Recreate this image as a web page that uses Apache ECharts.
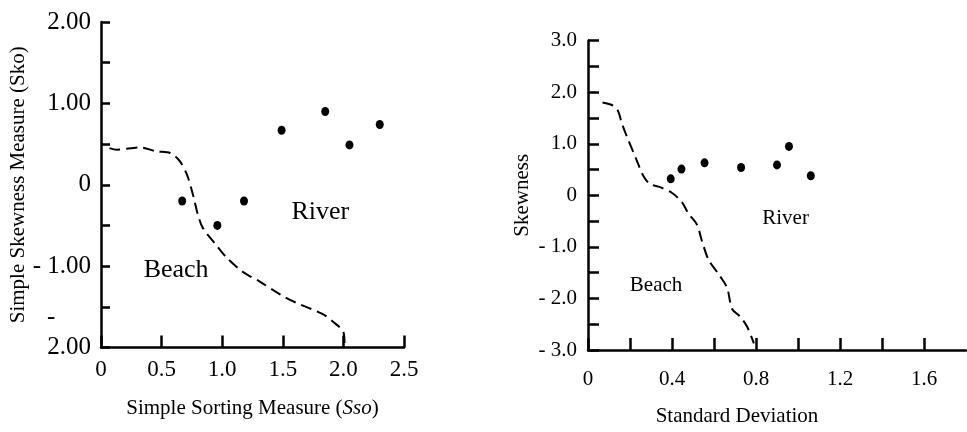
<!DOCTYPE html>
<html>
<head>
<meta charset="utf-8">
<script src="https://cdn.jsdelivr.net/npm/echarts@6/dist/echarts.min.js"></script>
<style>
  html, body { margin: 0; padding: 0; background: #fff; }
  #chart { width: 967px; height: 432px; }
</style>
</head>
<body>
<div id="chart"></div>
<script>
// ==========================================================================
// Data
// ==========================================================================

// Left panel: simple sorting vs simple skewness
var sortingPoints = [
    [0.67, -0.20], [0.96, -0.50], [1.18, -0.20], [1.49, 0.67],
    [1.85, 0.90], [2.05, 0.49], [2.30, 0.74]
];
var sortingBoundary = [
    [0.07, 0.45], [0.13, 0.43], [0.32, 0.46], [0.46, 0.41], [0.57, 0.39],
    [0.65, 0.29], [0.71, 0.12], [0.76, -0.13], [0.80, -0.37], [0.84, -0.53],
    [0.95, -0.74], [1.04, -0.90], [1.17, -1.07], [1.31, -1.19], [1.48, -1.35],
    [1.61, -1.45], [1.83, -1.59], [1.92, -1.69], [2.00, -1.81], [2.01, -1.96]
];
var sortingLabels = [
    { name: 'River', value: [1.81, -0.34] },
    { name: 'Beach', value: [0.62, -1.05] }
];
var sortingXTicks = { 0: '0', 0.5: '0.5', 1: '1.0', 1.5: '1.5', 2: '2.0', 2.5: '2.5' };

// Right panel: standard deviation vs skewness
var stdevPoints = [
    [0.394, 0.32], [0.445, 0.51], [0.555, 0.63], [0.729, 0.54],
    [0.90, 0.59], [0.957, 0.95], [1.061, 0.38]
];
var stdevBoundary = [
    [0.069, 1.80], [0.12, 1.74], [0.144, 1.63], [0.16, 1.41], [0.19, 1.09],
    [0.23, 0.70], [0.263, 0.38], [0.295, 0.22], [0.343, 0.16], [0.399, 0.05],
    [0.447, -0.13], [0.478, -0.35], [0.519, -0.57], [0.543, -0.89],
    [0.574, -1.25], [0.622, -1.53], [0.662, -1.79], [0.686, -2.20],
    [0.726, -2.36], [0.758, -2.55], [0.79, -2.87]
];
var stdevLabels = [
    { name: 'River', value: [0.941, -0.45] },
    { name: 'Beach', value: [0.324, -1.75] }
];
var stdevXTicks = { '0.0': '0', '0.4': '0.4', '0.8': '0.8', '1.2': '1.2', '1.6': '1.6' };
var stdevYTicks = { 3: '3.0', 2: '2.0', 1: '1.0', 0: '0', '-1': '- 1.0', '-2': '- 2.0', '-3': '- 3.0' };

// ==========================================================================
// Chart setup
// ==========================================================================

var chart = echarts.init(document.getElementById('chart'));
var FONT = '"Liberation Serif", "Times New Roman", serif';

var axisLine = { onZero: false, lineStyle: { color: '#000', width: 2.5 } };

function tickStyle(len) {
    return { inside: true, length: len, lineStyle: { color: '#000', width: 2.5 } };
}

function labelSeries(xi, data, size) {
    return {
        type: 'scatter',
        xAxisIndex: xi,
        yAxisIndex: xi,
        data: data,
        symbolSize: 0,
        silent: true,
        itemStyle: { opacity: 1 },
        label: {
            show: true,
            position: 'inside',
            formatter: '{b}',
            color: '#000',
            fontFamily: FONT,
            fontSize: size
        }
    };
}

chart.setOption({
    animation: false,
    backgroundColor: '#fff',
    grid: [
        { left: 101, top: 22, width: 303, height: 325.5 },
        { left: 588, top: 40.7, width: 378, height: 313.3 }
    ],
    xAxis: [
        {
            gridIndex: 0,
            type: 'value',
            min: 0, max: 2.5, interval: 0.5,
            splitLine: { show: false },
            axisLine: axisLine,
            axisTick: tickStyle(12),
            axisLabel: {
                color: '#000', fontFamily: FONT, fontSize: 23, margin: 11,
                formatter: v => sortingXTicks[+v.toFixed(1)] || ''
            },
            name: 'Simple Sorting Measure ({i|Sso})',
            nameLocation: 'middle',
            nameGap: 50,
            nameTextStyle: {
                color: '#000', fontFamily: FONT, fontSize: 21,
                rich: {
                    i: { fontStyle: 'italic', fontFamily: FONT, fontSize: 21, color: '#000' }
                }
            }
        },
        {
            gridIndex: 1,
            type: 'value',
            min: 0, max: 1.8, interval: 0.2,
            splitLine: { show: false },
            axisLine: axisLine,
            axisTick: tickStyle(12),
            axisLabel: {
                color: '#000', fontFamily: FONT, fontSize: 21, margin: 19,
                showMaxLabel: false,
                formatter: v => stdevXTicks[v.toFixed(1)] || ''
            },
            name: 'Standard Deviation',
            nameLocation: 'middle',
            nameGap: 56,
            nameTextStyle: {
                color: '#000', fontFamily: FONT, fontSize: 21,
                padding: [0, 80, 0, 0]
            }
        }
    ],
    yAxis: [
        {
            gridIndex: 0,
            type: 'value',
            min: -2, max: 2, interval: 0.5,
            splitLine: { show: false },
            axisLine: axisLine,
            axisTick: tickStyle(9),
            axisLabel: {
                color: '#000', fontFamily: FONT, fontSize: 25, margin: 10,
                formatter: function (v) {
                    if (v === 2) return '2.00';
                    if (v === 1) return '1.00';
                    if (v === 0) return '0';
                    if (v === -1) return '- 1.00';
                    // wrapped "- 2.00" as printed in the source
                    if (v === -2) return '{m|-}\n{n|2.00}\n{n| }';
                    return '';
                },
                rich: {
                    m: { width: 44, align: 'left', fontSize: 25, fontFamily: FONT, color: '#000', lineHeight: 30 },
                    n: { fontSize: 25, fontFamily: FONT, color: '#000', lineHeight: 30 }
                }
            },
            name: 'Simple Skewness Measure (Sko)',
            nameLocation: 'middle',
            nameGap: 70,
            nameTextStyle: { color: '#000', fontFamily: FONT, fontSize: 21 }
        },
        {
            gridIndex: 1,
            type: 'value',
            min: -3, max: 3, interval: 0.5,
            splitLine: { show: false },
            axisLine: axisLine,
            axisTick: tickStyle(11),
            axisLabel: {
                color: '#000', fontFamily: FONT, fontSize: 21, margin: 11,
                formatter: v => stdevYTicks[v] || ''
            },
            name: 'Skewness',
            nameLocation: 'middle',
            nameGap: 55,
            nameTextStyle: { color: '#000', fontFamily: FONT, fontSize: 21 }
        }
    ],
    series: [
        {
            type: 'line',
            xAxisIndex: 0, yAxisIndex: 0,
            data: sortingBoundary,
            smooth: 0.3,
            symbol: 'none',
            lineStyle: { color: '#000', width: 2, type: [11, 6] }
        },
        {
            type: 'scatter',
            xAxisIndex: 0, yAxisIndex: 0,
            data: sortingPoints,
            symbol: 'circle',
            symbolSize: [8, 9],
            itemStyle: { color: '#000', opacity: 1 }
        },
        labelSeries(0, sortingLabels, 26),
        {
            type: 'line',
            xAxisIndex: 1, yAxisIndex: 1,
            data: stdevBoundary,
            smooth: 0.3,
            symbol: 'none',
            lineStyle: { color: '#000', width: 2, type: [11, 6] }
        },
        {
            type: 'scatter',
            xAxisIndex: 1, yAxisIndex: 1,
            data: stdevPoints,
            symbol: 'circle',
            symbolSize: [8, 9],
            itemStyle: { color: '#000', opacity: 1 }
        },
        labelSeries(1, stdevLabels, 21)
    ]
});
</script>
</body>
</html>
